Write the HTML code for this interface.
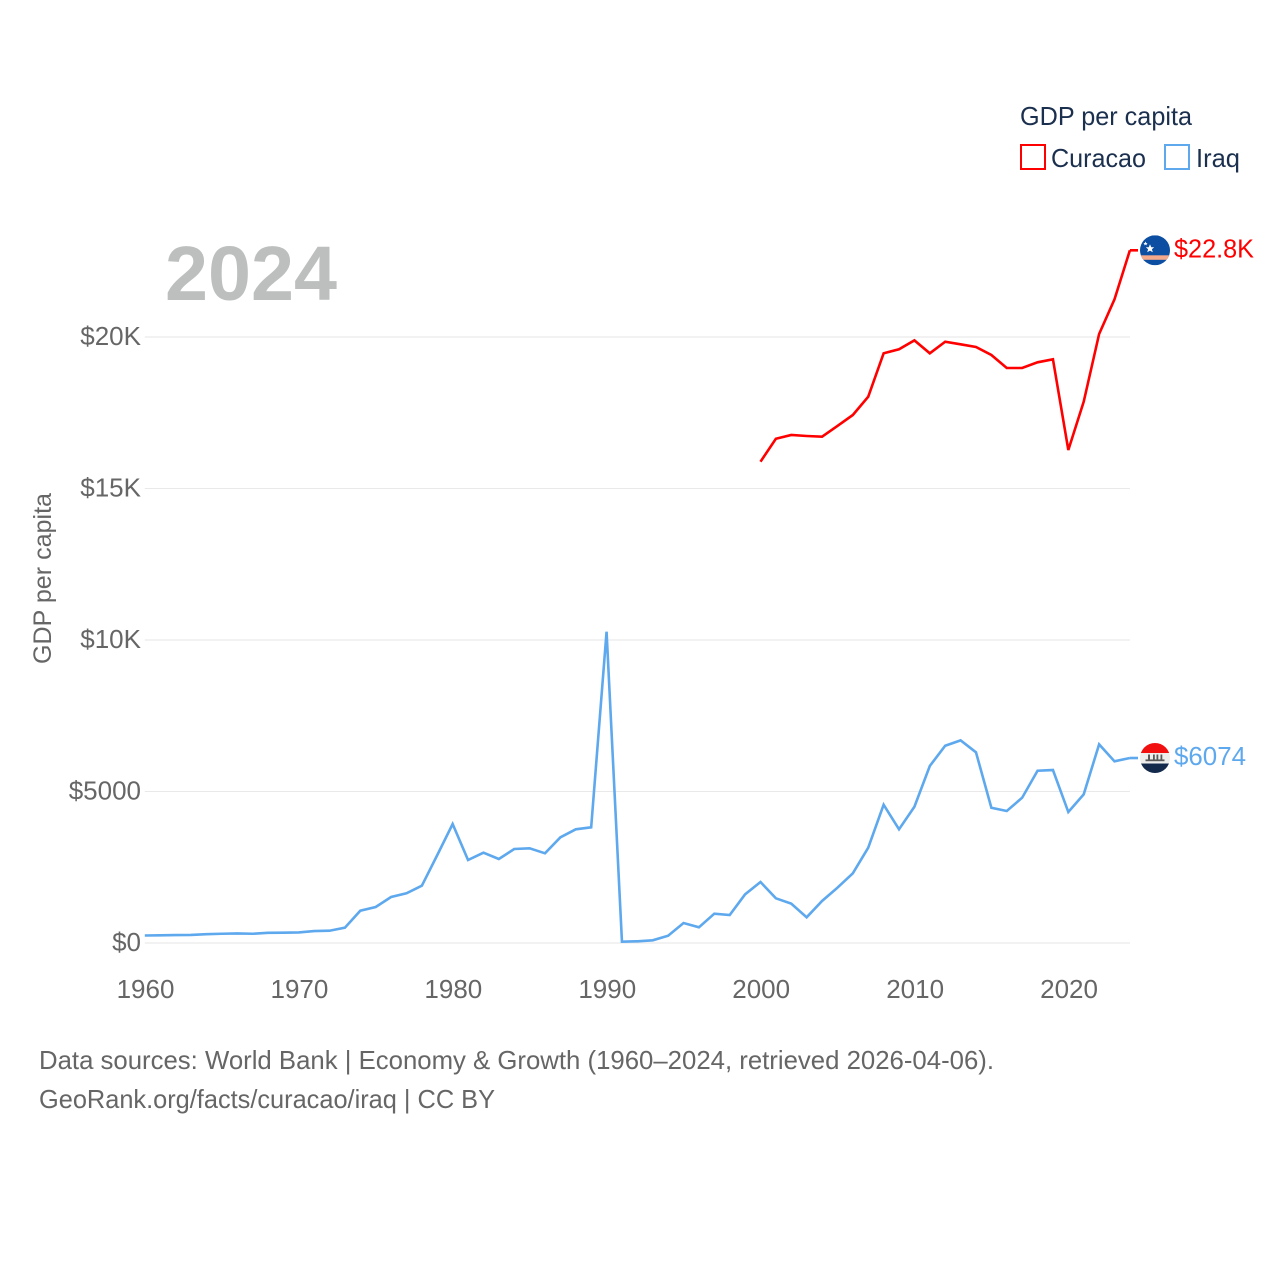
<!DOCTYPE html>
<html lang="en">
<head>
<meta charset="utf-8">
<title>GDP per capita: Curacao and Iraq</title>
<style>
html,body{margin:0;padding:0;background:#fff;width:1280px;height:1280px;overflow:hidden}
svg{display:block}
text{font-family:"Liberation Sans","DejaVu Sans",sans-serif}
</style>
</head>
<body>
<svg id="chart" xmlns="http://www.w3.org/2000/svg" width="1280" height="1280" viewBox="0 0 1280 1280">
  <rect width="1280" height="1280" fill="#fff"/>
  <g id="grid"></g>
  <text x="165" y="300" font-size="77" font-weight="700" fill="#bdbfbf" textLength="172" lengthAdjust="spacingAndGlyphs">2024</text>
  <g id="yticks"></g>
  <g id="xticks"></g>
  <text transform="translate(51,664) rotate(-90)" font-size="25" fill="#666" textLength="171" lengthAdjust="spacingAndGlyphs">GDP per capita</text>
  <g id="series"></g>
  <g id="ends"></g>
  <g>
    <text x="1020" y="125" font-size="26" fill="#1b2f4e" textLength="172" lengthAdjust="spacingAndGlyphs">GDP per capita</text>
    <rect x="1021" y="145" width="24" height="24" fill="none" stroke="#ff0000" stroke-width="2"/>
    <text x="1051" y="167" font-size="26" fill="#1b2f4e" textLength="95" lengthAdjust="spacingAndGlyphs">Curacao</text>
    <rect x="1165" y="145" width="24" height="24" fill="none" stroke="#5ea8ee" stroke-width="2"/>
    <text x="1196" y="167" font-size="26" fill="#1b2f4e" textLength="44" lengthAdjust="spacingAndGlyphs">Iraq</text>
  </g>
  <text x="39" y="1069" font-size="26" fill="#666" textLength="955" lengthAdjust="spacingAndGlyphs">Data sources: World Bank | Economy &amp; Growth (1960–2024, retrieved 2026-04-06).</text>
  <text x="39" y="1108" font-size="26" fill="#666" textLength="456" lengthAdjust="spacingAndGlyphs">GeoRank.org/facts/curacao/iraq | CC BY</text>
  <defs>
    <clipPath id="flag-clip"><circle cx="0" cy="0" r="15"/></clipPath>
  </defs>
</svg>
<script>
const years = [1960,1961,1962,1963,1964,1965,1966,1967,1968,1969,1970,1971,1972,1973,1974,1975,1976,1977,1978,1979,1980,1981,1982,1983,1984,1985,1986,1987,1988,1989,1990,1991,1992,1993,1994,1995,1996,1997,1998,1999,2000,2001,2002,2003,2004,2005,2006,2007,2008,2009,2010,2011,2012,2013,2014,2015,2016,2017,2018,2019,2020,2021,2022,2023,2024];
const iraqValues = [248,255,262,265,290,305,315,305,335,340,350,395,405,505,1066,1188,1518,1640,1891,2900,3927,2739,2980,2772,3102,3125,2960,3488,3752,3818,10274,43,56,89,241,660,518,967,924,1607,2013,1475,1297,848,1386,1825,2300,3145,4564,3752,4498,5842,6511,6688,6293,4465,4356,4795,5686,5709,4323,4907,6557,5996,6105];
const curacaoYears = [2000,2001,2002,2003,2004,2005,2006,2007,2008,2009,2010,2011,2012,2013,2014,2015,2016,2017,2018,2019,2020,2021,2022,2023,2024];
const curacaoValues = [15884,16643,16766,16733,16710,17063,17426,18030,19462,19594,19890,19462,19845,19758,19670,19406,18977,18977,19165,19264,16271,17865,20099,21245,22861];
const yTickValues = [0,5000,10000,15000,20000];
const yTickLabels = ["$0","$5000","$10K","$15K","$20K"];
const xTickValues = [1960,1970,1980,1990,2000,2010,2020];
const curacaoEndLabel = "$22.8K";
const iraqEndLabel = "$6074";

const NS = "http://www.w3.org/2000/svg";
const plotLeft = 144.8, plotRight = 1129.9, plotBottom = 943, plotTop = 337;
function xScale(year){ return plotLeft + (year - 1960) * (plotRight - plotLeft) / (2024 - 1960); }
function yScale(v){ return plotBottom - v * (plotBottom - plotTop) / 20000; }
function make(tag, attrs, parent){
  const el = document.createElementNS(NS, tag);
  for (const k in attrs) el.setAttribute(k, attrs[k]);
  parent.appendChild(el);
  return el;
}
const grid = document.getElementById("grid");
const yticks = document.getElementById("yticks");
const xticks = document.getElementById("xticks");
const series = document.getElementById("series");
const ends = document.getElementById("ends");

yTickValues.forEach(function(v, i){
  const line = make("line", {x1: plotLeft, x2: plotRight, y1: yScale(v), y2: yScale(v), stroke: "#e9e9e9", "stroke-width": v % 10000 === 0 ? 1.2 : 0.9}, grid);
  
  
  const t = make("text", {x: 141, y: yScale(v) + 8, "font-size": 26, fill: "#666", "text-anchor": "end"}, yticks);
  
  
  t.textContent = yTickLabels[i];
});

xTickValues.forEach(function(y){
  const t = make("text", {x: xScale(y) + 0.7, y: 998, "font-size": 26, fill: "#666", "text-anchor": "middle"}, xticks);
  
  
  t.textContent = y;
});

function linePath(xs, vs){
  return xs.map(function(x, i){ return (i ? "L" : "M") + xScale(x).toFixed(2) + " " + yScale(vs[i]).toFixed(2); }).join(" ");
}
const iraqLine = make("path", {d: linePath(years, iraqValues), fill: "none", stroke: "#5ea8ee", "stroke-width": 2.6, "stroke-linejoin": "miter"}, series);


const curacaoLine = make("path", {d: linePath(curacaoYears, curacaoValues), fill: "none", stroke: "#ff0000", "stroke-width": 2.6, "stroke-linejoin": "miter"}, series);



const flagX = 1155;
function endConnector(lastYear, lastValue, color){
  const c = make("line", {x1: xScale(lastYear), x2: flagX - 17, y1: yScale(lastValue), y2: yScale(lastValue), stroke: color, "stroke-width": 2.6}, ends);
  return c;
}
const curacaoConnector = endConnector(2024, curacaoValues[curacaoValues.length - 1], "#ff0000");


const iraqConnector = endConnector(2024, iraqValues[iraqValues.length - 1], "#5ea8ee");



/* Curacao flag */
const cy = yScale(curacaoValues[curacaoValues.length - 1]);
const cf = make("g", {transform: "translate(" + flagX + "," + cy + ")", "clip-path": "url(#flag-clip)"}, ends);


make("rect", {x: -15, y: -15, width: 30, height: 30, fill: "#0b4ea2"}, cf);
make("rect", {x: -15, y: 5, width: 30, height: 4.5, fill: "#f4a98a"}, cf);
make("polygon", {points: "-5,-6 -3.7,-3 -0.8,-3 -3.1,-1 -2.2,2 -5,0.3 -7.8,2 -6.9,-1 -9.2,-3 -6.3,-3", fill: "#ffffff"}, cf);
make("polygon", {points: "-9.5,-8.8 -8.8,-7.3 -7.4,-7.3 -8.5,-6.3 -8.1,-4.9 -9.5,-5.7 -10.9,-4.9 -10.5,-6.3 -11.6,-7.3 -10.2,-7.3", fill: "#ffffff"}, cf);

/* Iraq flag */
const iy = yScale(iraqValues[iraqValues.length - 1]);
const jf = make("g", {transform: "translate(" + flagX + "," + iy + ")", "clip-path": "url(#flag-clip)"}, ends);


make("rect", {x: -15, y: -15, width: 30, height: 10, fill: "#f20f0f"}, jf);
make("rect", {x: -15, y: -5, width: 30, height: 10.5, fill: "#eeeeee"}, jf);
make("rect", {x: -15, y: 5.5, width: 30, height: 9.5, fill: "#142a4c"}, jf);
make("rect", {x: -9.5, y: 1.4, width: 19, height: 1.8, fill: "#5a5a5a"}, jf);
make("rect", {x: -7, y: -3.5, width: 2, height: 5, fill: "#5a5a5a"}, jf);
make("rect", {x: -2, y: -3.5, width: 1.8, height: 5, fill: "#5a5a5a"}, jf);
make("rect", {x: 1.5, y: -3.5, width: 1.8, height: 5, fill: "#5a5a5a"}, jf);
make("rect", {x: 5.5, y: -3.5, width: 1.8, height: 5, fill: "#5a5a5a"}, jf);

const cLabel = make("text", {x: 1174, y: cy + 7, "font-size": 26, fill: "#ff0000", textLength: 80, lengthAdjust: "spacingAndGlyphs"}, ends);


cLabel.textContent = curacaoEndLabel;
const iLabel = make("text", {x: 1174, y: iy + 7, "font-size": 26, fill: "#5ea8ee", textLength: 72, lengthAdjust: "spacingAndGlyphs"}, ends);


iLabel.textContent = iraqEndLabel;
</script>
</body>
</html>
